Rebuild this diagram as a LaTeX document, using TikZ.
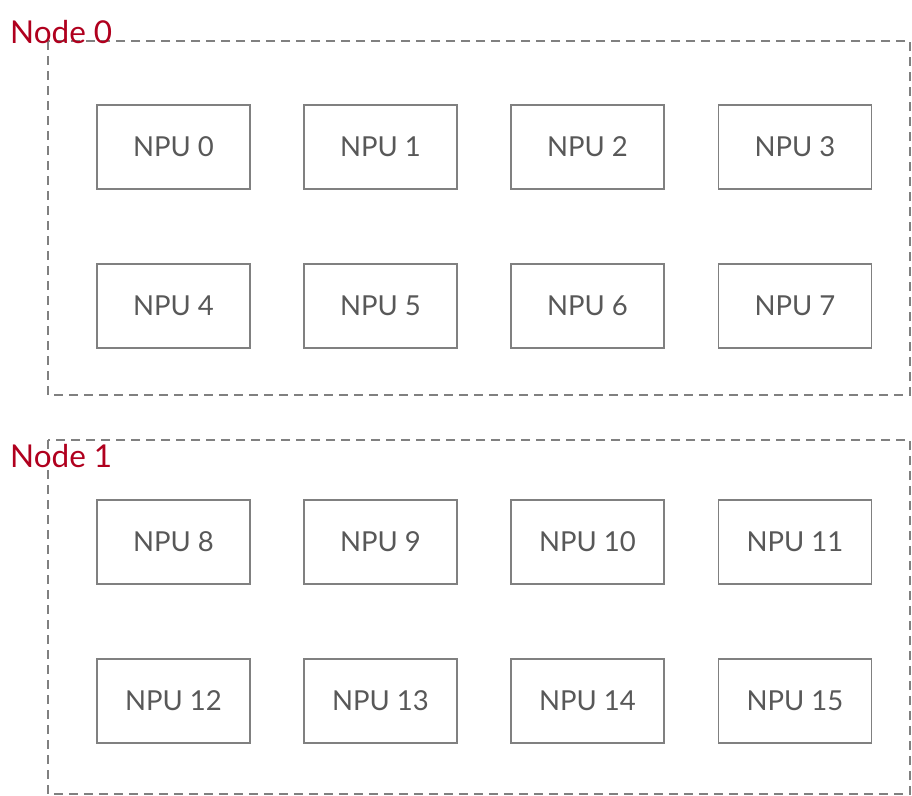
\documentclass[tikz,border=0pt]{standalone}
\usepackage{fontspec}
\setmainfont{Lato}
\usetikzlibrary{positioning}
\definecolor{framecolor}{HTML}{808080}
\definecolor{labelcolor}{HTML}{585858}
\definecolor{hostcolor}{HTML}{B0001E}

\begin{document}
\begin{tikzpicture}[x=1pt, y=-1pt,
    npubox/.style={rectangle, draw=framecolor, line width=1.3pt,
      minimum width=153pt, minimum height=84pt, inner sep=0pt,
      font=\fontsize{27.5}{31}\selectfont, text=labelcolor},
    hostframe/.style={draw=framecolor, line width=1.3pt,
      dash pattern=on 9pt off 6pt},
    hostlabel/.style={anchor=base west, inner sep=0pt,
      font=\fontsize{31.5}{35}\selectfont, text=hostcolor}]
  \useasboundingbox (0,0) rectangle (912,795);
  % dashed host frames
  \draw[hostframe] (48,41) rectangle (910,395);
  \draw[hostframe] (48,440) rectangle (910,794);
  \node[hostlabel] (host0) at (10,43) {Node 0};
  \node[hostlabel] (host1) at (10,467) {Node 1};
  % NPU grid
  \foreach \row/\ypos in {0/147, 1/306, 2/542, 3/701} {
    \foreach \col/\xpos in {0/173.5, 1/380.5, 2/587.5, 3/795} {
      \pgfmathtruncatemacro{\idx}{4*\row+\col}
      \node[npubox] (npu\idx) at (\xpos,\ypos) {NPU \idx};
    }
  }
\end{tikzpicture}
\end{document}
